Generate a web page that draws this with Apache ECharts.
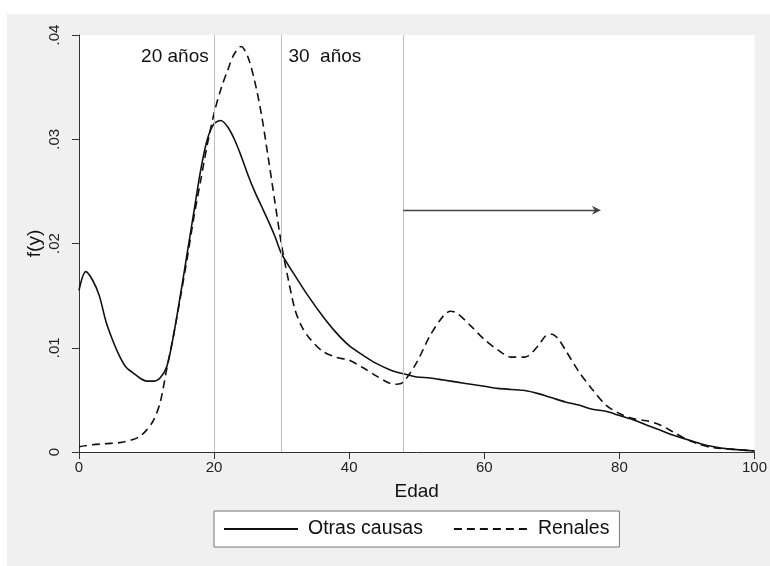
<!DOCTYPE html>
<html>
<head>
<meta charset="utf-8">
<script src="https://cdn.jsdelivr.net/npm/echarts@6/dist/echarts.min.js"></script>
<style>
  html, body { margin: 0; padding: 0; background: #fff; }
  #chart { width: 770px; height: 566px; }
</style>
</head>
<body>
<div id="chart"></div>
<script>
  // Edad (x) y densidad f(y)
  const edadOtras = [0,1,2,3,4,5,6,7,8,9,10,11,12,13,14,15,16,17,18,19,20,21,22,23,24,25,26,27,28,29,30,
    32,34,36,38,40,42,44,46,48,50,52,54,56,58,60,62,64,66,68,70,72,74,76,78,80,82,84,86,88,90,92,94,96,98,100]
  const otrasCausas = [.0155,.0173,.0165,.0150,.0125,.0107,.0092,.0081,.0076,.0071,.0068,.0068,.0071,.0082,.0112,
    .0150,.0190,.0230,.0270,.0300,.0315,.0318,.0312,.0300,.0284,.0266,.0250,.0236,.0222,.0207,.0190,
    .0169,.0149,.0131,.0115,.0102,.0093,.0085,.0079,.0075,.0072,.0071,.0069,.0067,.0065,.0063,.0061,.0060,
    .0059,.0056,.0052,.0048,.0045,.0041,.0039,.0035,.0031,.0026,.0021,.0016,.0012,.0008,.0005,.0003,.0002,.0001]

  const edadRenales = [0,2,4,6,8,9,10,11,12,13,14,15,16,17,18,19,20,21,22,23,24,25,26,27,28,29,30,31,32,33,34,
    36,38,40,42,44,46,47,48,50,52,54,55,56,58,60,62,64,66,68,69,70,71,72,74,76,78,80,82,84,86,88,90,92,94,96,98,100]
  const renales = [.0005,.0007,.0008,.0009,.0012,.0015,.0021,.0030,.0047,.0080,.0112,.0148,.0185,.0225,.0260,
    .0295,.0325,.0348,.0366,.0382,.0389,.0379,.0356,.0324,.0283,.0240,.0198,.0165,.0136,.0120,.0110,
    .0097,.0091,.0088,.0081,.0073,.0066,.0065,.0067,.0086,.0112,.0131,.0135,.0133,.0121,.0108,.0098,.0091,
    .0091,.0102,.0111,.0113,.0108,.0098,.0077,.0060,.0045,.0037,.0032,.0030,.0026,.0019,.0012,.0007,.0004,
    .0003,.0002,.0001]

  const lineasEdad = [20, 30, 48]
  const flecha = { desde: 48, hasta: 76.6, nivel: 0.0232 }
  const notas = [
    { texto: '20 años', edad: 14.2, nivel: 0.0379 },
    { texto: '30  años', edad: 36.4, nivel: 0.0379 }
  ]

  const font = 'Liberation Sans, Arial, sans-serif'
  const pares = (xs, ys) => xs.map((x, i) => [x, ys[i]])

  const myChart = echarts.init(document.getElementById('chart'))
  const option = {
    backgroundColor: '#f0f0f0',
    animation: false,
    textStyle: { fontFamily: font },
    graphic: [
      { type: 'rect', shape: { x: 0, y: 0, width: 770, height: 14 }, style: { fill: '#fff' } },
      { type: 'rect', shape: { x: 0, y: 0, width: 7, height: 566 }, style: { fill: '#fff' } }
    ],
    grid: {
      left: 79, right: 15, top: 35, bottom: 114,
      show: true, backgroundColor: '#fff', borderWidth: 0
    },
    legend: {
      left: 214, top: 511,
      padding: [8, 10, 8, 9],
      backgroundColor: '#fff',
      borderColor: '#777', borderWidth: 1,
      itemWidth: 74, itemHeight: 14, itemGap: 30,
      itemStyle: { opacity: 0 },
      textStyle: { fontFamily: font, fontSize: 19.5, color: '#111', padding: [0, 0, 0, 5] },
      data: ['Otras causas', 'Renales']
    },
    xAxis: {
      type: 'value', min: 0, max: 100, interval: 20,
      name: 'Edad', nameLocation: 'middle', nameGap: 30,
      nameTextStyle: { fontFamily: font, fontSize: 19, color: '#111' },
      axisLine: { lineStyle: { color: '#333', width: 1 } },
      axisTick: { show: true, length: 7, lineStyle: { color: '#333' } },
      axisLabel: { fontFamily: font, fontSize: 15, color: '#222', margin: 8 },
      splitLine: { show: false }
    },
    yAxis: {
      type: 'value', min: 0, max: 0.04, interval: 0.01,
      name: 'f(y)', nameLocation: 'middle', nameGap: 35, nameMoveOverlap: false,
      nameTextStyle: { fontFamily: font, fontSize: 19, color: '#111' },
      axisLine: { show: true, lineStyle: { color: '#333', width: 1 } },
      axisTick: { show: true, length: 7, lineStyle: { color: '#333' } },
      axisLabel: {
        fontFamily: font, fontSize: 15, color: '#222', rotate: 90, margin: 17,
        formatter: v => v === 0 ? '0' : v.toFixed(2).replace(/^0/, '')
      },
      splitLine: { show: false }
    },
    series: [
      {
        name: 'Otras causas', type: 'line', symbol: 'none', smooth: 0.3,
        data: pares(edadOtras, otrasCausas),
        lineStyle: { color: '#111', width: 1.6, type: 'solid' },
        itemStyle: { color: '#111' },
        markLine: {
          silent: true, symbol: 'none', label: { show: false },
          lineStyle: { color: '#bdbdbd', width: 1, type: 'solid' },
          data: lineasEdad.map(e => ({ xAxis: e })).concat([[
            { coord: [flecha.desde, flecha.nivel], symbol: 'none' },
            { coord: [flecha.hasta, flecha.nivel], symbol: 'path://M5,0 L10,10 L5,7 L0,10 Z', symbolSize: [9, 9],
              lineStyle: { color: '#444', width: 1.3 } }
          ]])
        },
        markPoint: {
          silent: true, symbol: 'rect', symbolSize: 1,
          itemStyle: { color: 'rgba(0,0,0,0)' },
          label: { show: true, position: 'inside', fontFamily: font, fontSize: 19, color: '#111',
            formatter: p => p.name },
          data: notas.map(n => ({ name: n.texto, coord: [n.edad, n.nivel] }))
        }
      },
      {
        name: 'Renales', type: 'line', symbol: 'none', smooth: 0.3,
        data: pares(edadRenales, renales),
        lineStyle: { color: '#111', width: 1.6, type: [8, 5] },
        itemStyle: { color: '#111' }
      }
    ]
  }
  myChart.setOption(option)
  window.addEventListener('resize', function () {
    myChart.resize()
  })
</script>
</body>
</html>
